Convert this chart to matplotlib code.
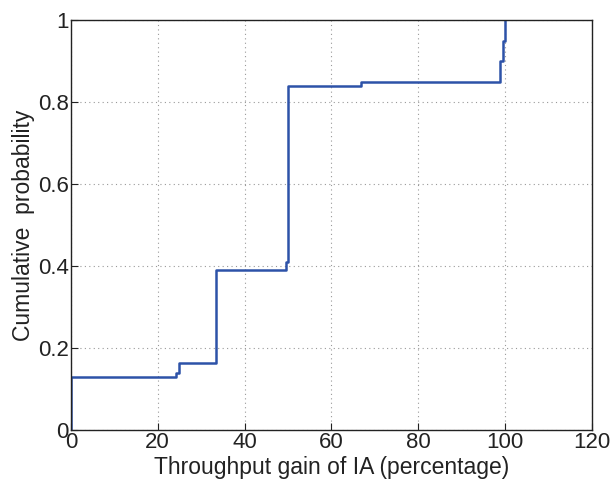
import matplotlib
matplotlib.use("Agg")
import matplotlib.pyplot as plt

# CDF steps (gain %, cumulative probability)
gain = [0, 0, 24.3, 24.9, 33.3, 49.6, 50.0, 66.7, 98.8, 99.6, 100.0]
prob = [0, 0.13, 0.14, 0.163, 0.39, 0.41, 0.84, 0.85, 0.90, 0.95, 1.0]

xticks = [0, 20, 40, 60, 80, 100, 120]
yticks = [0, 0.2, 0.4, 0.6, 0.8, 1]
ytick_labels = ["0", "0.2", "0.4", "0.6", "0.8", "1"]

plt.rcParams["font.family"] = ["Liberation Sans", "DejaVu Sans"]

fig = plt.figure(figsize=(6.11, 4.8), dpi=100)
ax = fig.add_axes([0.116, 0.104, 0.853, 0.854])

ax.plot(gain, prob, drawstyle="steps-post", color="#2d52a8", lw=1.8)

ax.set_xlim(0, 120)
ax.set_ylim(0, 1)
ax.set_xticks(xticks)
ax.set_yticks(yticks)
ax.set_yticklabels(ytick_labels)
ax.tick_params(direction="in", labelsize=16, length=5, width=0.8, pad=1.5, colors="#222222")
ax.grid(True, linestyle=(0, (1, 3)), color="#999999", lw=0.8)

for s in ax.spines.values():
    s.set_linewidth(1.0)
    s.set_color("#222222")

ax.set_xlabel("Throughput gain of IA (percentage)", fontsize=16.5, labelpad=2, color="#222222")
ax.set_ylabel("Cumulative  probability", fontsize=16.5, labelpad=2, color="#222222")

fig.savefig("out.png", dpi=100)
